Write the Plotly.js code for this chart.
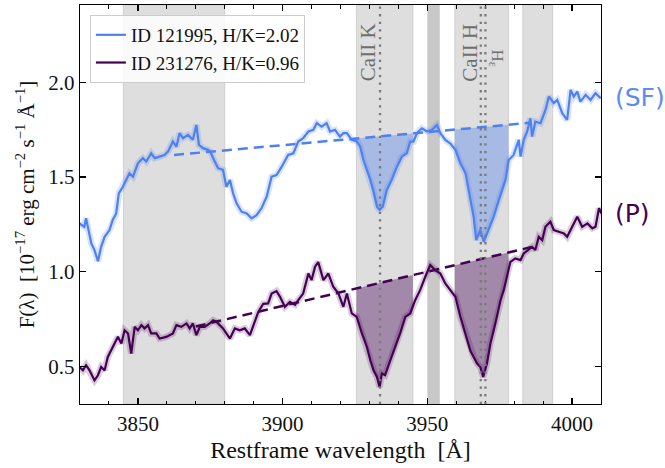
<!DOCTYPE html>
<html>
<head>
<meta charset="utf-8">
<script src="https://cdn.plot.ly/plotly-3.0.1.min.js"></script>
<style>html,body{margin:0;padding:0;background:#fff;}#chart{width:665px;height:468px;}</style>
</head>
<body>
<div id="chart"></div>
<script>
// ---- Data ----
const wlSF = [3829.8,3831.5,3832.1,3833.9,3835.0,3836.2,3837.3,3838.5,3840.2,3841.3,3842.5,3843.4,3844.8,3846.0,3847.1,3848.3,3850.0,3851.7,3852.9,3854.6,3855.8,3857.5,3859.2,3860.4,3862.1,3863.3,3864.4,3865.6,3867.3,3869.0,3870.2,3871.1,3872.5,3874.2,3875.0,3876.3,3877.7,3879.4,3880.6,3881.8,3882.9,3884.1,3885.8,3887.6,3889.3,3891.0,3892.7,3894.5,3896.2,3897.9,3899.7,3901.9,3903.7,3905.4,3907.1,3908.9,3910.6,3911.8,3913.5,3915.2,3916.4,3918.1,3919.8,3921.0,3922.2,3923.9,3925.6,3926.8,3927.9,3929.1,3930.3,3931.4,3932.6,3933.5,3934.6,3936.0,3937.7,3939.5,3941.2,3942.9,3944.1,3945.2,3946.4,3948.1,3949.9,3951.6,3953.3,3954.5,3956.2,3957.9,3959.7,3961.4,3963.2,3964.9,3966.0,3966.9,3968.3,3969.5,3971.2,3972.9,3974.7,3975.8,3977.0,3978.1,3979.8,3981.6,3982.2,3983.3,3984.5,3985.6,3986.2,3987.3,3989.1,3990.8,3992.0,3993.7,3994.9,3996.6,3998.3,3999.5,4000.6,4001.8,4002.9,4004.7,4006.4,4008.1,4009.9];
const fluxSF = [1.255,1.237,1.282,1.149,1.114,1.055,1.131,1.184,1.22,1.273,1.308,1.414,1.449,1.49,1.52,1.502,1.573,1.60,1.582,1.626,1.60,1.608,1.617,1.635,1.688,1.661,1.732,1.706,1.723,1.697,1.776,1.67,1.653,1.644,1.635,1.59,1.547,1.538,1.449,1.485,1.414,1.361,1.317,1.308,1.282,1.299,1.335,1.396,1.502,1.511,1.555,1.617,1.626,1.688,1.706,1.741,1.75,1.785,1.767,1.785,1.741,1.75,1.714,1.732,1.732,1.697,1.688,1.661,1.59,1.538,1.485,1.423,1.343,1.326,1.343,1.432,1.485,1.555,1.608,1.626,1.688,1.688,1.732,1.758,1.741,1.75,1.776,1.732,1.697,1.679,1.644,1.573,1.52,1.378,1.29,1.167,1.22,1.158,1.22,1.29,1.378,1.432,1.485,1.59,1.617,1.697,1.608,1.697,1.741,1.811,1.714,1.793,1.785,1.855,1.926,1.891,1.908,1.838,1.802,1.961,1.926,1.952,1.899,1.935,1.908,1.944,1.917];

const wlP = [3829.8,3831.0,3832.1,3833.3,3835.0,3836.2,3837.3,3838.5,3839.6,3840.8,3841.9,3843.1,3844.3,3845.4,3846.6,3847.7,3848.9,3850.0,3851.2,3852.3,3853.5,3854.6,3856.4,3857.5,3859.8,3862.1,3863.3,3865.0,3866.8,3867.9,3869.0,3870.2,3871.4,3873.1,3874.8,3876.0,3877.1,3879.4,3881.8,3883.5,3885.2,3886.9,3888.7,3889.8,3891.6,3893.3,3895.0,3896.2,3897.9,3899.1,3900.8,3902.5,3904.3,3905.4,3907.1,3908.9,3910.0,3911.2,3912.3,3914.1,3915.8,3917.5,3919.3,3921.0,3922.2,3923.9,3925.6,3927.4,3929.1,3930.3,3931.4,3932.6,3933.5,3934.3,3935.4,3937.2,3938.9,3940.6,3942.4,3944.1,3945.8,3947.5,3949.3,3951.0,3952.7,3954.5,3956.2,3957.9,3959.7,3961.4,3963.2,3964.9,3966.0,3967.2,3968.3,3969.3,3970.6,3971.8,3973.5,3975.3,3976.4,3977.6,3978.7,3980.4,3982.2,3983.3,3985.0,3986.2,3987.3,3988.5,3989.7,3990.8,3992.5,3993.7,3995.4,3997.2,3998.3,4000.1,4001.8,4003.5,4005.3,4007.0,4008.1,4009.3,4010.2];
const fluxP = [0.496,0.478,0.505,0.478,0.425,0.452,0.496,0.478,0.549,0.584,0.62,0.655,0.62,0.69,0.673,0.567,0.708,0.69,0.717,0.70,0.717,0.673,0.673,0.646,0.655,0.673,0.717,0.708,0.726,0.70,0.726,0.664,0.708,0.708,0.726,0.743,0.735,0.70,0.646,0.70,0.69,0.70,0.664,0.708,0.787,0.83,0.832,0.884,0.897,0.867,0.814,0.84,0.825,0.849,0.884,0.99,0.955,1.026,1.05,0.955,0.99,0.92,0.884,0.814,0.884,0.779,0.761,0.673,0.602,0.531,0.478,0.443,0.39,0.461,0.452,0.531,0.602,0.673,0.761,0.779,0.849,0.902,0.973,1.035,1.008,0.99,0.937,0.902,0.867,0.761,0.673,0.58,0.549,0.514,0.496,0.443,0.514,0.62,0.726,0.849,0.902,0.99,1.052,1.07,1.061,1.096,1.114,1.131,1.114,1.184,1.167,1.237,1.264,1.22,1.211,1.202,1.184,1.237,1.29,1.237,1.255,1.229,1.237,1.335,1.308];

// pseudo-continuum lines (end points)
const contSFwl = [3862.5, 3985.5];
const contSFflux = [1.617, 1.787];
const contPwl = [3870, 3986];
const contPflux = [0.71, 1.13];

// Grey wavelength windows
const bandLo = [3845, 3925.5, 3959.5, 3983];
const bandHi = [3880, 3945, 3978, 3993.3];
const darkBandLo = [3950];
const darkBandHi = [3954.3];
// absorption windows filled (CaII K, CaII H)
const absLo = [3925.5, 3959.5];
const absHi = [3945, 3978];
// line positions
const lineNames = ['CaII K', 'CaII H', 'H<sub>ε</sub>'];
const lineWaves = [3933.66, 3968.47, 3970.07];

const labelSF = 'ID 121995, H/K=2.02';
const labelP = 'ID 231276, H/K=0.96';

const colSF = '#4f80f0';
const colP = '#440154';

// ---- helpers ----
function interp(x, xs, ys) {
  if (x <= xs[0]) return ys[0] + (ys[1]-ys[0])*(x-xs[0])/(xs[1]-xs[0]);
  for (let i = 1; i < xs.length; i++) {
    if (x <= xs[i]) {
      const t = (x - xs[i-1]) / (xs[i] - xs[i-1]);
      return ys[i-1] + t*(ys[i]-ys[i-1]);
    }
  }
  const n = xs.length;
  return ys[n-2] + (ys[n-1]-ys[n-2])*(x-xs[n-2])/(xs[n-1]-xs[n-2]);
}
function fillPoly(wl, fl, cwl, cfl, lo, hi) {
  const xs = [lo], ys = [interp(lo, wl, fl)];
  for (let i = 0; i < wl.length; i++) if (wl[i] > lo && wl[i] < hi) { xs.push(wl[i]); ys.push(fl[i]); }
  xs.push(hi); ys.push(interp(hi, wl, fl));
  xs.push(hi); ys.push(interp(hi, cwl, cfl));
  xs.push(lo); ys.push(interp(lo, cwl, cfl));
  xs.push(lo); ys.push(ys[0]);
  return {x: xs, y: ys};
}

const traces = [];
for (let k = 0; k < absLo.length; k++) {
  const a = fillPoly(wlSF, fluxSF, contSFwl, contSFflux, absLo[k], absHi[k]);
  traces.push({x: a.x, y: a.y, mode: 'lines', fill: 'toself', fillcolor: 'rgba(79,128,240,0.38)', line: {width: 0}, showlegend: false, hoverinfo: 'skip'});
  const b = fillPoly(wlP, fluxP, contPwl, contPflux, absLo[k], absHi[k]);
  traces.push({x: b.x, y: b.y, mode: 'lines', fill: 'toself', fillcolor: 'rgba(68,1,84,0.38)', line: {width: 0}, showlegend: false, hoverinfo: 'skip'});
}
// error envelopes
traces.push({x: wlSF, y: fluxSF, mode: 'lines', line: {color: 'rgba(79,128,240,0.22)', width: 6.5}, showlegend: false, hoverinfo: 'skip'});
traces.push({x: wlP, y: fluxP, mode: 'lines', line: {color: 'rgba(68,1,84,0.2)', width: 6.5}, showlegend: false, hoverinfo: 'skip'});
// spectra
traces.push({x: wlSF, y: fluxSF, mode: 'lines', name: labelSF, line: {color: colSF, width: 2.2}});
traces.push({x: wlP, y: fluxP, mode: 'lines', name: labelP, line: {color: colP, width: 2.2}});
// continua
traces.push({x: contSFwl, y: contSFflux, mode: 'lines', line: {color: colSF, width: 2.5, dash: '10px,6px'}, showlegend: false, hoverinfo: 'skip'});
traces.push({x: contPwl, y: contPflux, mode: 'lines', line: {color: colP, width: 2.5, dash: '10px,6px'}, showlegend: false, hoverinfo: 'skip'});

const shapes = [];
for (let i = 0; i < bandLo.length; i++) {
  shapes.push({type: 'rect', xref: 'x', yref: 'paper', x0: bandLo[i], x1: bandHi[i], y0: 0, y1: 1, fillcolor: '#dedede', line: {color: '#cfcfcf', width: 1}, layer: 'below'});
}
for (let i = 0; i < darkBandLo.length; i++) {
  shapes.push({type: 'rect', xref: 'x', yref: 'paper', x0: darkBandLo[i], x1: darkBandHi[i], y0: 0, y1: 1, fillcolor: '#c8c8c8', line: {width: 0}, layer: 'below'});
}
for (let i = 0; i < lineWaves.length; i++) {
  shapes.push({type: 'line', xref: 'x', yref: 'paper', x0: lineWaves[i], x1: lineWaves[i], y0: 0, y1: 1, line: {color: '#7a7a7a', width: 2.3, dash: '2.3px,5.3px'}, layer: 'above'});
}

const serif = 'Liberation Serif, Times New Roman, serif';
const annotations = [
  {text: lineNames[0], x: lineWaves[0] - 4.2, y: 2.16, xref: 'x', yref: 'y', textangle: -90, showarrow: false, font: {family: serif, size: 21, color: '#6e6e6e'}},
  {text: lineNames[1], x: lineWaves[1] - 3.6, y: 2.16, xref: 'x', yref: 'y', textangle: -90, showarrow: false, font: {family: serif, size: 21, color: '#6e6e6e'}},
  {text: lineNames[2], x: lineWaves[2] + 3.8, y: 2.13, xref: 'x', yref: 'y', textangle: 90, showarrow: false, font: {family: serif, size: 17, color: '#6e6e6e'}},
  {text: '(SF)', x: 1.023, xanchor: 'left', y: 1.919, xref: 'paper', yref: 'y', showarrow: false, font: {family: 'DejaVu Sans, sans-serif', size: 25, color: '#5b8cf0'}},
  {text: '(P)', x: 1.023, xanchor: 'left', y: 1.31, xref: 'paper', yref: 'y', showarrow: false, font: {family: 'DejaVu Sans, sans-serif', size: 25, color: colP}}
];

const axisCommon = {
  showline: true, linecolor: 'black', linewidth: 1.4, mirror: 'ticks',
  ticks: 'inside', ticklen: 6, tickwidth: 1.3, tickcolor: 'black',
  showgrid: false, zeroline: false,
  tickfont: {family: serif, size: 21, color: '#111'}
};

const layout = {
  width: 665, height: 468,
  margin: {l: 80, r: 64, t: 5, b: 64},
  paper_bgcolor: 'white', plot_bgcolor: 'white',
  font: {family: serif, color: '#111'},
  xaxis: Object.assign({}, axisCommon, {
    range: [3830, 4010], tick0: 3850, dtick: 50,
    minor: {dtick: 10, tick0: 3850, ticks: 'inside', ticklen: 3.5, tickwidth: 1, tickcolor: 'black'},
    title: {text: 'Restframe wavelength  [Å]', font: {family: serif, size: 24, color: '#111'}, standoff: 6}
  }),
  yaxis: Object.assign({}, axisCommon, {
    range: [0.3, 2.41], tick0: 0.5, dtick: 0.5, tickformat: '.1f',
    title: {text: 'F(λ)  [10<sup>−17</sup> erg cm<sup>−2</sup> s<sup>−1</sup> Å<sup>−1</sup>]', font: {family: serif, size: 21, color: '#111'}, standoff: 8}
  }),
  legend: {x: 0.019, y: 0.975, xanchor: 'left', yanchor: 'top', bgcolor: 'rgba(255,255,255,0.85)', bordercolor: '#cccccc', borderwidth: 1, font: {family: serif, size: 19, color: '#111'}, itemwidth: 30, tracegroupgap: 0},
  shapes: shapes,
  annotations: annotations,
  showlegend: true
};

Plotly.newPlot('chart', traces, layout, {staticPlot: true, displayModeBar: false});
</script>
</body>
</html>
